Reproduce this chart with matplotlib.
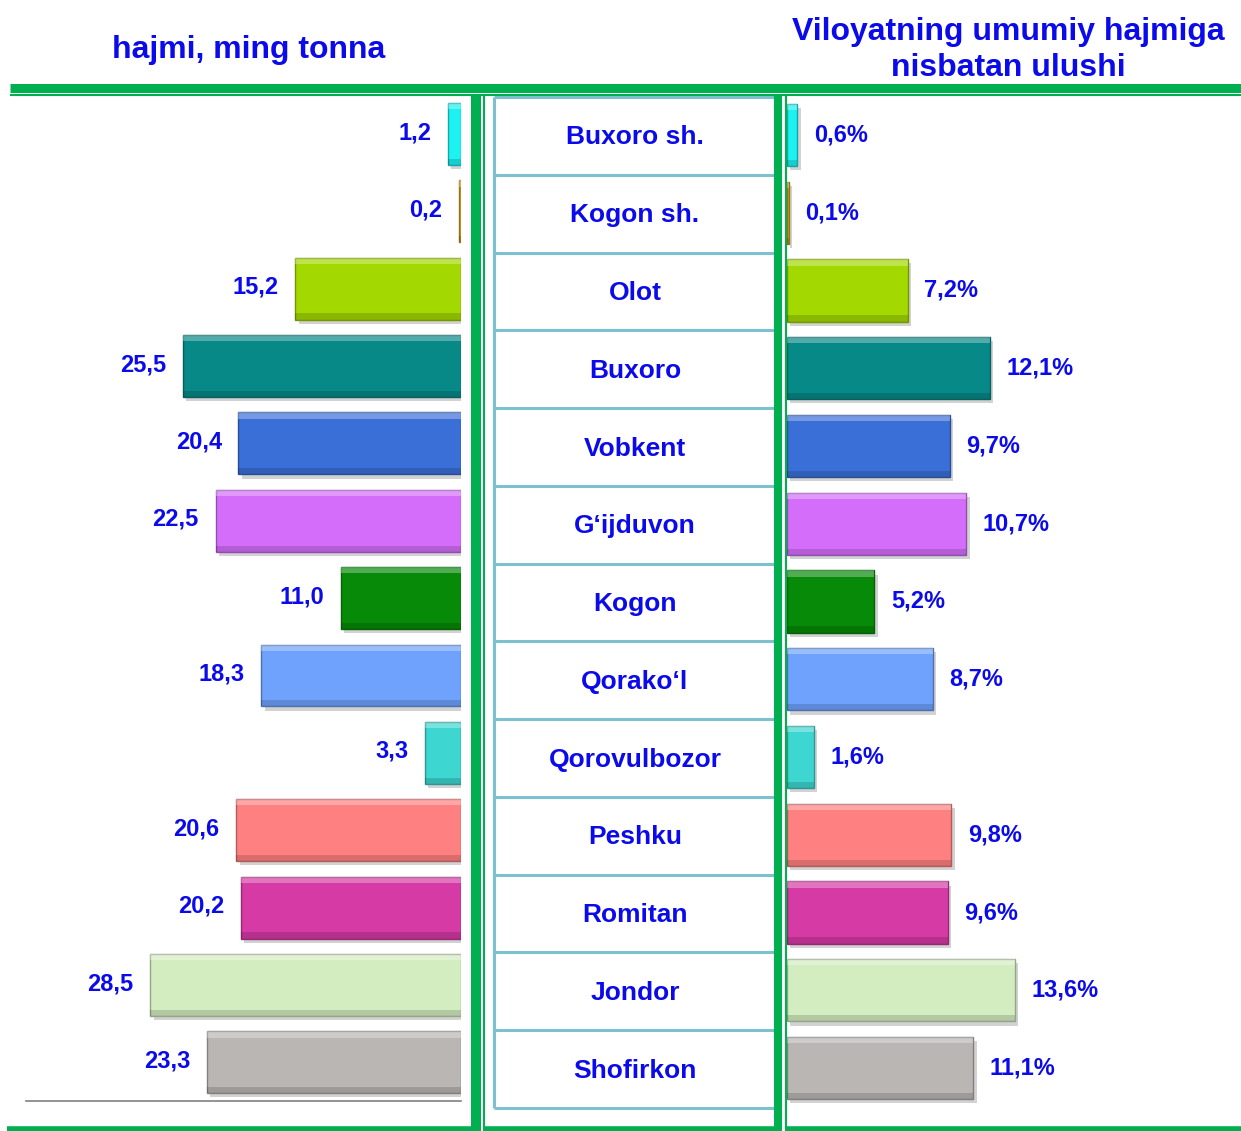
import matplotlib.pyplot as plt
import matplotlib.patheffects as pe
from matplotlib.lines import Line2D

# data
districts = ["Buxoro sh.", "Kogon sh.", "Olot", "Buxoro", "Vobkent", "G‘ijduvon",
             "Kogon", "Qorako‘l", "Qorovulbozor", "Peshku", "Romitan", "Jondor", "Shofirkon"]
volume = [1.2, 0.2, 15.2, 25.5, 20.4, 22.5, 11.0, 18.3, 3.3, 20.6, 20.2, 28.5, 23.3]
share = [0.6, 0.1, 7.2, 12.1, 9.7, 10.7, 5.2, 8.7, 1.6, 9.8, 9.6, 13.6, 11.1]
colors = ["#1CF2F2", "#D9A21E", "#A3D900", "#078987", "#3A6FD8", "#D46EFA",
          "#078A07", "#6EA2FC", "#3DD6D0", "#FF8080", "#D63AA4", "#D3EDC1", "#BAB6B4"]

left_title = "hajmi, ming tonna"
right_title = "Viloyatning umumiy hajmiga\nnisbatan ulushi"

plt.rcParams['font.family'] = ['Liberation Sans', 'DejaVu Sans']
BLUE = "#0A0AEA"
GREEN = "#00B050"
CELL = "#7DC0CF"

W, H = 1241, 1131
fig = plt.figure(figsize=(W / 100, H / 100), dpi=100)


def fx(px):
    return px / W


def fy(py):
    return 1 - py / H


def axes_px(x0, y0, x1, y1):
    return fig.add_axes([fx(x0), fy(y1), fx(x1) - fx(x0), (y1 - y0) / H])


def darker(c, k=0.7):
    import matplotlib.colors as mc
    r, g, b = mc.to_rgb(c)
    return (r * k, g * k, b * k)


rows = list(range(len(districts)))
shadow = [pe.SimplePatchShadow(offset=(2.5, -3), shadow_rgbFace="#808080", alpha=0.35), pe.Normal()]


def draw_bars(ax, vals):
    bars = ax.barh(rows, vals, height=0.8, color=colors,
                   edgecolor=[darker(c) for c in colors], linewidth=1)
    for b in bars:
        b.set_path_effects(shadow)
    # bevel highlights
    ax.barh([r - 0.36 for r in rows], vals, height=0.08, color="white", alpha=0.3, linewidth=0)
    ax.barh([r + 0.36 for r in rows], vals, height=0.08, color="black", alpha=0.15, linewidth=0)
    return bars


# left panel
axl = axes_px(26, 95.3, 461, 1101)
draw_bars(axl, volume)
axl.set_xlim(435 / 10.91, 0)
axl.set_ylim(12.5, -0.5)
for s in ["top", "left", "right"]:
    axl.spines[s].set_visible(False)
axl.spines["bottom"].set_color("#808080")
axl.spines["bottom"].set_linewidth(1.2)
axl.set_xticks([])
axl.set_yticks([])
for r, v in zip(rows, volume):
    axl.annotate(f"{v:.1f}".replace(".", ","), (v, r), xytext=(-12, 1), textcoords="offset points",
                 ha="right", va="center", fontsize=17, fontweight="bold", color=BLUE)

# right panel
axr = axes_px(787, 96, 1241, 1107)
draw_bars(axr, share)
axr.set_xlim(0, 454 / 16.76)
axr.set_ylim(12.5, -0.5)
axr.axis("off")
for r, v in zip(rows, share):
    axr.annotate(f"{v:.1f}%".replace(".", ","), (v, r), xytext=(12, 0), textcoords="offset points",
                 ha="left", va="center", fontsize=17, fontweight="bold", color=BLUE)

# middle table
axt = axes_px(494, 97, 776, 1108)
axt.set_xlim(0, 1)
axt.set_ylim(12.5, -0.5)
axt.axis("off")
axt.hlines([r - 0.5 for r in rows] + [rows[-1] + 0.5], 0, 1, color=CELL, linewidth=2.2, clip_on=False)
axt.vlines([0, 1], -0.5, rows[-1] + 0.5, color=CELL, linewidth=2.2, clip_on=False)
for r, name in zip(rows, districts):
    axt.text(0.5, r + 0.02, name, ha="center", va="center", fontsize=19, fontweight="bold", color=BLUE)

# green frame
def gline(xs, ys, lw):
    fig.add_artist(Line2D([fx(x) for x in xs], [fy(y) for y in ys], color=GREEN,
                          linewidth=lw, solid_capstyle="butt"))


gline([10, 1241], [87.5, 87.5], 6.5)
gline([10, 1241], [94.5, 94.5], 1.5)
gline([476, 476], [95, 1131], 7.2)
gline([483.5, 483.5], [95, 1131], 1.5)
gline([778.5, 778.5], [95, 1131], 5.8)
gline([785.5, 785.5], [95, 1131], 1.5)
gline([7, 481], [1128.5, 1128.5], 4)
gline([483, 782], [1128.5, 1128.5], 4)
gline([785, 1241], [1128.5, 1128.5], 4)

# headers
fig.text(fx(249), fy(50), left_title, ha="center", va="center", fontsize=23,
         fontweight="bold", color=BLUE)
fig.text(fx(1008), fy(50), right_title, ha="center", va="center", fontsize=23,
         fontweight="bold", color=BLUE, linespacing=1.3)

fig.savefig("out.png", dpi=100)
